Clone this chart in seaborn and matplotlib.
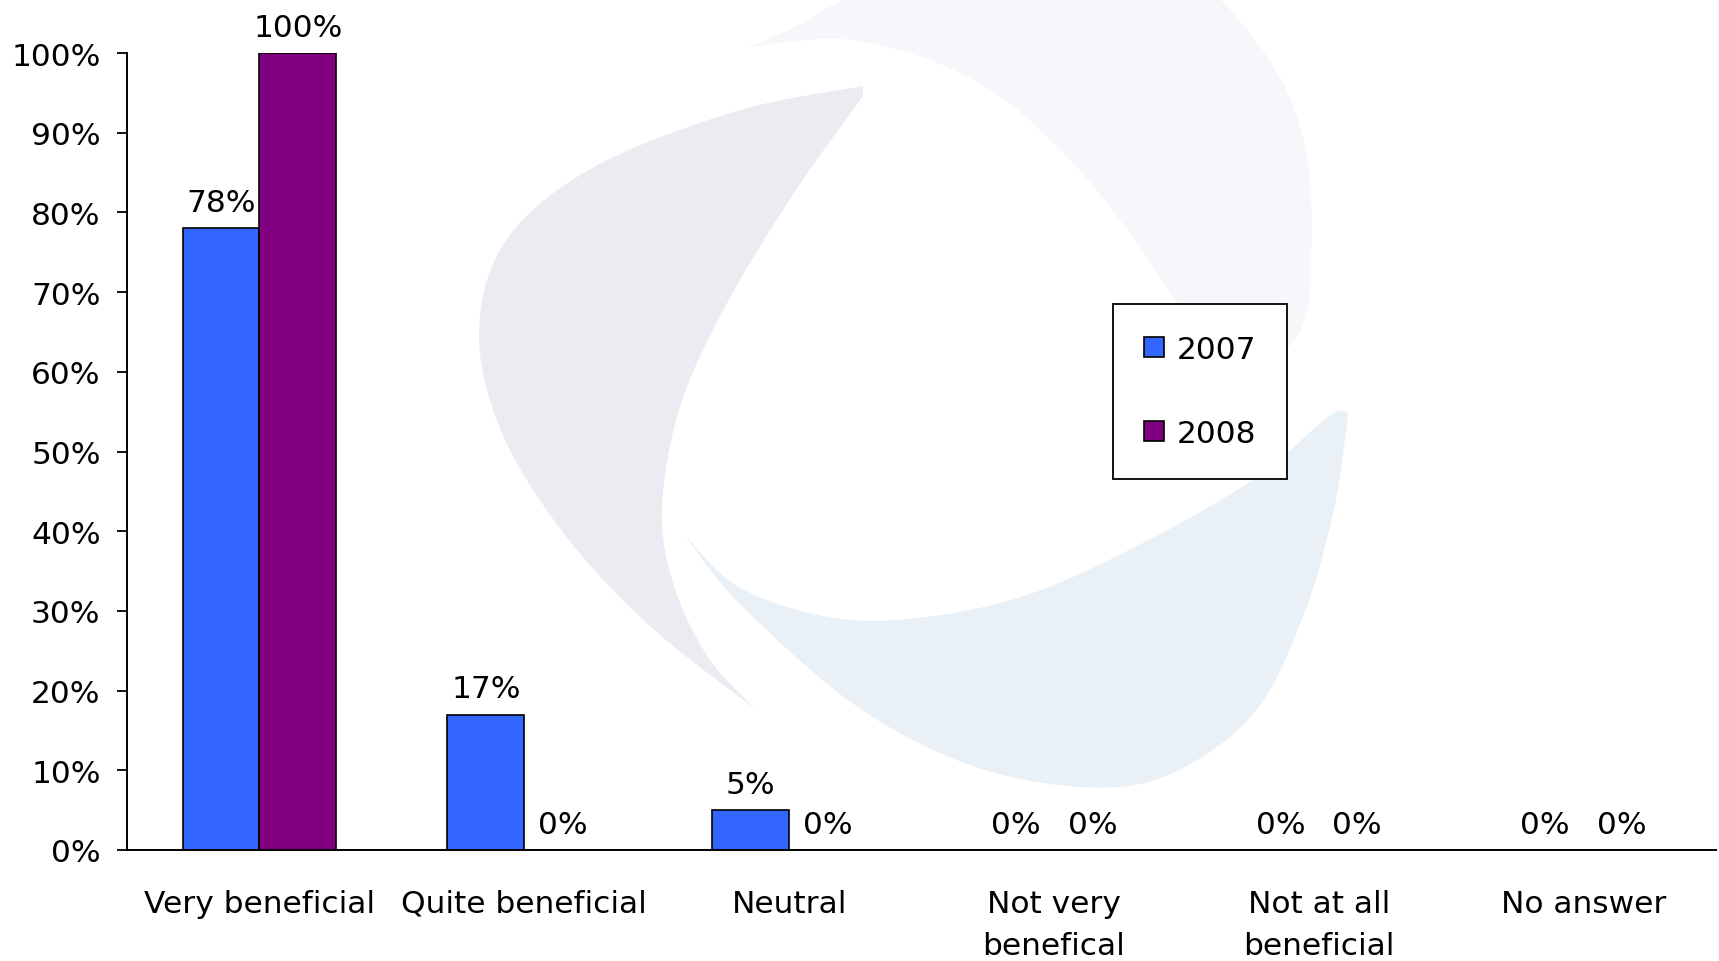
import numpy as np
import pandas as pd
import matplotlib
matplotlib.use("Agg")
import matplotlib.pyplot as plt
from matplotlib.patches import Polygon
import seaborn as sns

# Survey answers (share of respondents)
categories = ["Very beneficial", "Quite beneficial", "Neutral",
              "Not very\nbenefical", "Not at all\nbeneficial", "No answer"]
years = ["2007", "2008"]
values_2007 = [0.78, 0.17, 0.05, 0.0, 0.0, 0.0]
values_2008 = [1.00, 0.0, 0.0, 0.0, 0.0, 0.0]
y_ticks = [0.0, 0.1, 0.2, 0.3, 0.4, 0.5, 0.6, 0.7, 0.8, 0.9, 1.0]
palette = {"2007": "#3366FF", "2008": "#800080"}

df = pd.DataFrame({
    "category": categories * 2,
    "year": ["2007"] * len(categories) + ["2008"] * len(categories),
    "value": values_2007 + values_2008,
})

sns.set_theme(style="white")
plt.rcParams["font.family"] = ["DejaVu Sans"]
plt.rcParams["text.color"] = "black"
FS = 22.5

fig = plt.figure(figsize=(17.19, 9.62), dpi=100)

# faint logo watermark behind the chart (pixel coordinates of the figure)
bg = fig.add_axes([0, 0, 1, 1], zorder=0)
bg.set_xlim(0, 1719)
bg.set_ylim(962, 0)
bg.axis("off")


def spline(pts, n=30):
    # open Catmull-Rom curve through the given points
    p = np.asarray(pts, float)
    p = np.vstack([p[0], p, p[-1]])
    out = []
    for i in range(1, len(p) - 2):
        p0, p1, p2, p3 = p[i - 1], p[i], p[i + 1], p[i + 2]
        for t in np.linspace(0, 1, n, endpoint=False):
            out.append(0.5 * ((2 * p1) + (-p0 + p2) * t
                              + (2 * p0 - 5 * p1 + 4 * p2 - p3) * t ** 2
                              + (-p0 + 3 * p1 - 3 * p2 + p3) * t ** 3))
    out.append(p[-2])
    return np.array(out)


blades = [
    ("#EDEBF1",
     [(863, 87), (737, 112), (594, 168), (507, 240), (479, 332), (502, 434),
      (565, 536), (651, 628), (754, 709)],
     [(754, 709), (708, 658), (674, 587), (662, 510), (680, 408), (726, 306),
      (794, 194), (863, 97)]),
    ("#F7F6FA",
     [(749, 48), (852, 41), (967, 77), (1053, 143), (1127, 230), (1179, 306),
      (1240, 390)],
     [(1240, 390), (1300, 332), (1311, 255), (1308, 165), (1288, 95),
      (1250, 35), (1195, -15), (1060, -55), (900, -25), (794, 28),
      (749, 48)]),
    ("#E9F1F7",
     [(685, 536), (737, 587), (823, 617), (909, 620), (1024, 597),
      (1139, 546), (1254, 480), (1328, 418), (1348, 413)],
     [(1348, 413), (1345, 440), (1334, 510), (1305, 612), (1254, 714),
      (1168, 776), (1081, 788), (967, 765), (852, 704), (737, 602),
      (685, 536)]),
]
for color, edge_a, edge_b in blades:
    pts = np.vstack([spline(edge_a), spline(edge_b)])
    bg.add_patch(Polygon(pts, closed=True, facecolor=color, edgecolor="none"))

ax = fig.add_axes([127 / 1719, 1 - 851 / 962, (1716 - 127) / 1719,
                   (851 - 54) / 962], zorder=1)
ax.patch.set_alpha(0)

sns.barplot(data=df, x="category", y="value", hue="year", order=categories,
            hue_order=years, palette=palette, width=0.58, saturation=1,
            edgecolor="black", linewidth=1.2, ax=ax)

for cont, vals in zip(ax.containers, [values_2007, values_2008]):
    ax.bar_label(cont, labels=[f"{v:.0%}" for v in vals], padding=8,
                 fontsize=FS, color="black")

ax.set_xlim(-0.5, len(categories) - 0.5)
ax.set_ylim(0, 1)
ax.set_yticks(y_ticks)
ax.set_yticklabels([f"{v:.0%}" for v in y_ticks], fontsize=FS)
ax.set_xticks(range(len(categories)))
ax.set_xticklabels(categories, fontsize=FS, linespacing=1.55)
ax.set_xticks(np.arange(-0.5, len(categories)), minor=True)
ax.tick_params(axis="x", which="major", length=0, pad=28, colors="black")
ax.tick_params(axis="x", which="minor", length=9, width=1.3, direction="out",
               colors="black")
ax.tick_params(axis="y", length=7, width=1.3, direction="out", pad=12,
               colors="black", left=True)
ax.set_xlabel("")
ax.set_ylabel("")
for s in ["top", "right"]:
    ax.spines[s].set_visible(False)
for s in ["left", "bottom"]:
    ax.spines[s].set_color("black")
    ax.spines[s].set_linewidth(1.4)

handles, labels = ax.get_legend_handles_labels()
ax.get_legend().remove()
leg = ax.legend(handles, labels, loc="upper left",
                bbox_to_anchor=(1113 / 1719, 1 - 305 / 962),
                bbox_transform=fig.transFigure, fontsize=FS, frameon=True,
                fancybox=False, shadow=False, borderpad=1.0,
                labelspacing=1.75, handlelength=0.63, handleheight=0.63,
                handletextpad=0.4, borderaxespad=0, labelcolor="black")
leg.get_frame().set_edgecolor("black")
leg.get_frame().set_linewidth(1.3)
leg.get_frame().set_facecolor("white")
leg.get_frame().set_alpha(1)

fig.savefig("out.png", dpi=100, facecolor="white")
